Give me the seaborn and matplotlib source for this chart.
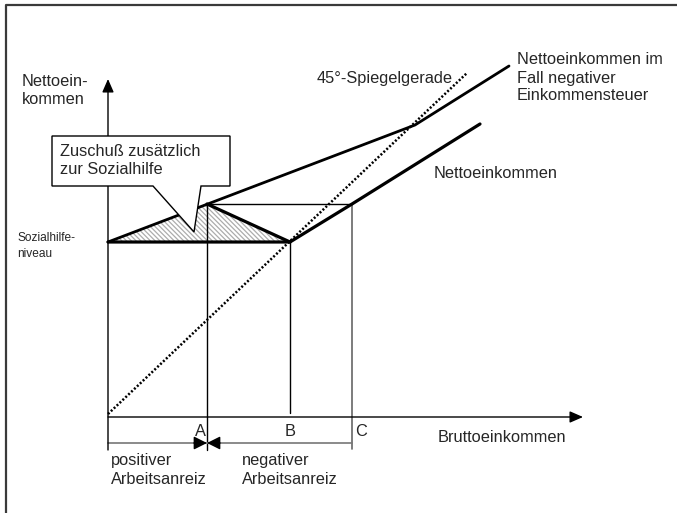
import matplotlib
matplotlib.use("Agg")
import matplotlib.pyplot as plt
import seaborn as sns
from matplotlib.patches import Polygon

# values (gross income on x, net income on y)
sozialhilfe = 175
brutto_A = 99
brutto_B = 182
brutto_C = 244
netto_A = 213

netto_x = [0, brutto_B, brutto_C, 372]
netto_y = [sozialhilfe, sozialhilfe, netto_A, 293]

nes_x = [0, 307, 401]
nes_y = [sozialhilfe, 292, 351]

abbau_x = [brutto_A, brutto_B]
abbau_y = [netto_A, sozialhilfe]

spiegel_x = [0, 359]
spiegel_y = [3, 344]

x_axis_end = 475
y_axis_end = 338
bracket_y = -26

sns.set_theme(style="white")
plt.rcParams["font.family"] = ["Liberation Sans", "DejaVu Sans"]
plt.rcParams["hatch.linewidth"] = 0.9
plt.rcParams["hatch.color"] = "#acacac"

fig = plt.figure(figsize=(6.77, 5.13), dpi=100)
ax = fig.add_axes([0, 0, 1, 1])
ax.set_xlim(-108, 569)
ax.set_ylim(-96, 417)
ax.axis("off")

fs = 11.8

# frame (only top and left edge visible)
ax.plot([-102, -102, 700], [-200, 412, 412], color="#3a3a3a", lw=1.6, clip_on=False)

# hatched area
ax.add_patch(Polygon([(0, sozialhilfe), (brutto_A, netto_A), (brutto_B, sozialhilfe)],
                     closed=True, facecolor="white", edgecolor="#acacac", lw=0,
                     hatch="\\" * 7, zorder=1))

# axes
ax.annotate("", xy=(0, y_axis_end), xytext=(0, -33),
            arrowprops=dict(arrowstyle="-|>,head_length=0.8,head_width=0.35",
                            lw=1, color="black", shrinkA=0, shrinkB=0, mutation_scale=10))
ax.annotate("", xy=(x_axis_end, 0), xytext=(0, 0),
            arrowprops=dict(arrowstyle="-|>,head_length=0.8,head_width=0.35",
                            lw=1, color="black", shrinkA=0, shrinkB=0, mutation_scale=10))

# helper lines
ax.plot([brutto_A, brutto_A], [netto_A, -33], color="black", lw=1)
ax.plot([brutto_B, brutto_B], [sozialhilfe, 4], color="black", lw=1)
ax.plot([brutto_C, brutto_C], [netto_A, -32], color="#666666", lw=1.2)
ax.plot([brutto_A, brutto_C], [netto_A, netto_A], color="black", lw=1)

# bracket below the axis
ax.plot([0, brutto_C], [bracket_y, bracket_y], color="#777777", lw=1.2)
for side in (-13, 13):
    ax.annotate("", xy=(brutto_A, bracket_y), xytext=(brutto_A + side, bracket_y),
                arrowprops=dict(arrowstyle="-|>,head_length=0.8,head_width=0.4",
                                lw=1, color="black", shrinkA=0, shrinkB=0, mutation_scale=10))

# curves
sns.lineplot(x=spiegel_x, y=spiegel_y, ax=ax, color="black", lw=1.8,
             linestyle=(0, (0.8, 0.8)), sort=False, estimator=None, legend=False)
sns.lineplot(x=nes_x, y=nes_y, ax=ax, color="black", lw=2, sort=False,
             estimator=None, legend=False)
sns.lineplot(x=netto_x, y=netto_y, ax=ax, color="black", lw=2.3, sort=False,
             estimator=None, legend=False)
sns.lineplot(x=abbau_x, y=abbau_y, ax=ax, color="black", lw=2.3, sort=False,
             estimator=None, legend=False)

# callout
ax.add_patch(Polygon([(-56, 281), (122, 281), (122, 231), (93, 231), (86, 185),
                      (45, 231), (-56, 231)], closed=True, facecolor="white",
                     edgecolor="black", lw=1, zorder=5))
ax.text(-48, 273, "Zuschuß zusätzlich\nzur Sozialhilfe", fontsize=fs, ha="left",
        va="top", linespacing=1.25, zorder=6)

# labels
ax.text(-86, 343, "Nettoein-\nkommen", fontsize=fs, ha="left", va="top", linespacing=1.25)
ax.text(-91, sozialhilfe - 4, "Sozialhilfe-\nniveau", fontsize=8.6, ha="left",
        va="center", linespacing=1.4)
ax.text(345, 338, "45°-Spiegelgerade", fontsize=fs, ha="right", va="center")
ax.text(409, 339, "Nettoeinkommen im\nFall negativer\nEinkommensteuer", fontsize=fs,
        ha="left", va="center", linespacing=1.25)
ax.text(326, 243, "Nettoeinkommen", fontsize=fs, ha="left", va="center")
ax.text(brutto_A - 7, -15, "A", fontsize=fs, ha="center", va="center")
ax.text(brutto_B, -15, "B", fontsize=fs, ha="center", va="center")
ax.text(brutto_C + 3, -15, "C", fontsize=fs, ha="left", va="center")
ax.text(330, -20, "Bruttoeinkommen", fontsize=fs, ha="left", va="center")
ax.text(3, -53, "positiver\nArbeitsanreiz", fontsize=fs, ha="left", va="center",
        linespacing=1.25)
ax.text(134, -53, "negativer\nArbeitsanreiz", fontsize=fs, ha="left", va="center",
        linespacing=1.25)

fig.savefig("out.png", dpi=100)
